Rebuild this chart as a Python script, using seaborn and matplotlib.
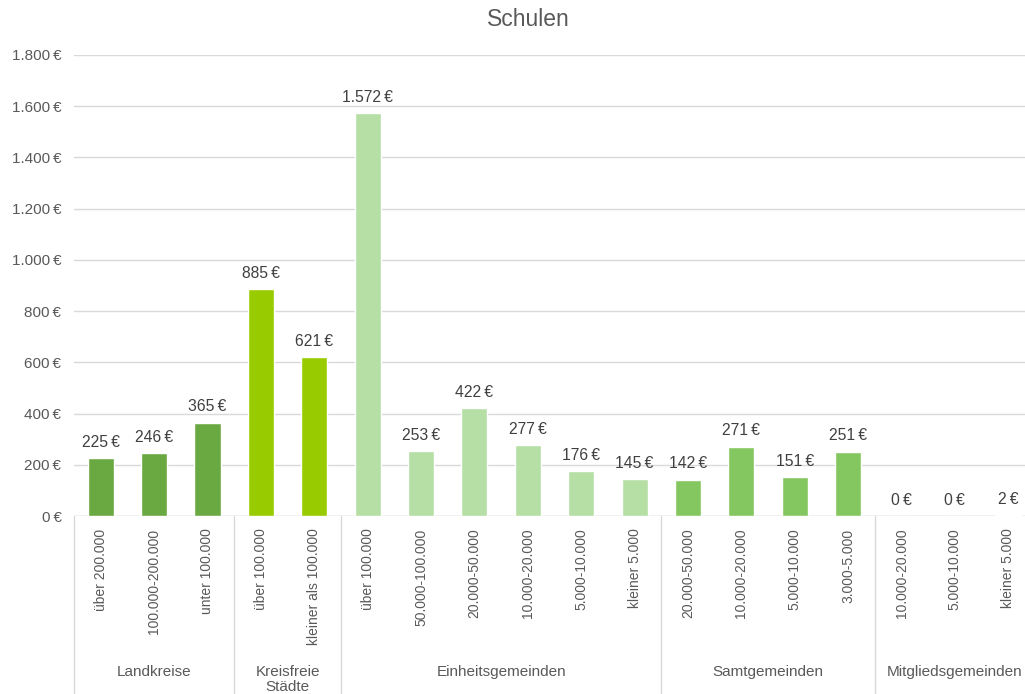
import pandas as pd
import seaborn as sns
import matplotlib.pyplot as plt
import matplotlib.transforms as mtransforms

groups = ["Landkreise", "Kreisfreie\nStädte", "Einheitsgemeinden",
          "Samtgemeinden", "Mitgliedsgemeinden"]
group_sizes = [3, 2, 6, 4, 3]
categories = [
    "über 200.000", "100.000-200.000", "unter 100.000",
    "über 100.000", "kleiner als 100.000",
    "über 100.000", "50.000-100.000", "20.000-50.000", "10.000-20.000",
    "5.000-10.000", "kleiner 5.000",
    "20.000-50.000", "10.000-20.000", "5.000-10.000", "3.000-5.000",
    "10.000-20.000", "5.000-10.000", "kleiner 5.000",
]
values = [225, 246, 365, 885, 621, 1572, 253, 422, 277, 176, 145,
          142, 271, 151, 251, 0, 0, 2]
group_colors = ["#6aa842", "#99cc00", "#b5dfa5", "#84c65f", "#a9d18e"]


def euro(v):
    return f"{v:,.0f}".replace(",", ".") + "\u2009€"


def main():
    sns.set_theme(style="white")
    plt.rcParams["font.family"] = ["Liberation Sans", "DejaVu Sans"]

    group_col = [g for g, n in zip(groups, group_sizes) for _ in range(n)]
    df = pd.DataFrame({
        "key": [f"c{i}" for i in range(len(values))],
        "group": group_col,
        "value": values,
    })

    fig = plt.figure(figsize=(10.25, 6.94), dpi=100)
    W, H = 1025, 694
    ax = fig.add_axes([74 / W, (H - 516) / H, (1035 - 74) / W, (516 - 55) / H])

    sns.barplot(data=df, x="key", y="value", hue="group",
                palette=dict(zip(groups, group_colors)), dodge=False,
                width=0.49, legend=False, ax=ax, saturation=1)

    ax.set_xlim(-0.5, len(values) - 0.5)
    ax.set_ylim(0, 1800)
    ax.set_yticks(range(0, 1801, 200))
    ax.set_yticklabels([euro(v) for v in range(0, 1801, 200)])
    ax.set_xticks(range(len(values)))
    ax.set_xticklabels(categories, rotation=90, va="top")
    ax.tick_params(axis="both", length=0, labelsize=10, colors="#595959")
    ax.tick_params(axis="y", labelsize=11, pad=9)
    ax.tick_params(axis="x", pad=9)
    ax.set_xlabel("")
    ax.set_ylabel("")
    ax.grid(axis="y", color="#d9d9d9", linewidth=1)
    ax.set_axisbelow(True)
    for s in ax.spines.values():
        s.set_visible(False)
    ax.axhline(0, color="#d9d9d9", linewidth=1, zorder=0.5)

    for i, v in enumerate(values):
        ax.annotate(euro(v), (i, v), xytext=(0, 6), textcoords="offset points",
                    ha="center", va="bottom", fontsize=11.3, color="#404040")

    # group separators and labels below the category axis
    trans = mtransforms.blended_transform_factory(ax.transData, ax.transAxes)
    ftrans = mtransforms.blended_transform_factory(ax.transData, fig.transFigure)
    start = 0
    bounds = [-0.5]
    for g, n in zip(groups, group_sizes):
        center = start + (n - 1) / 2
        ax.text(center, (H - 665) / H, g, transform=ftrans, ha="center",
                va="top", fontsize=11, color="#595959", linespacing=1.1)
        start += n
        bounds.append(start - 0.5)
    for b in bounds:
        ax.plot([b, b], [0, -0.45], transform=trans, color="#d9d9d9",
                linewidth=1, clip_on=False)

    fig.text(528 / W, (H - 20) / H, "Schulen", ha="center", va="center",
             fontsize=16.5, color="#595959")

    fig.savefig("out.png", dpi=100)
    plt.close(fig)


if __name__ == "__main__":
    main()
